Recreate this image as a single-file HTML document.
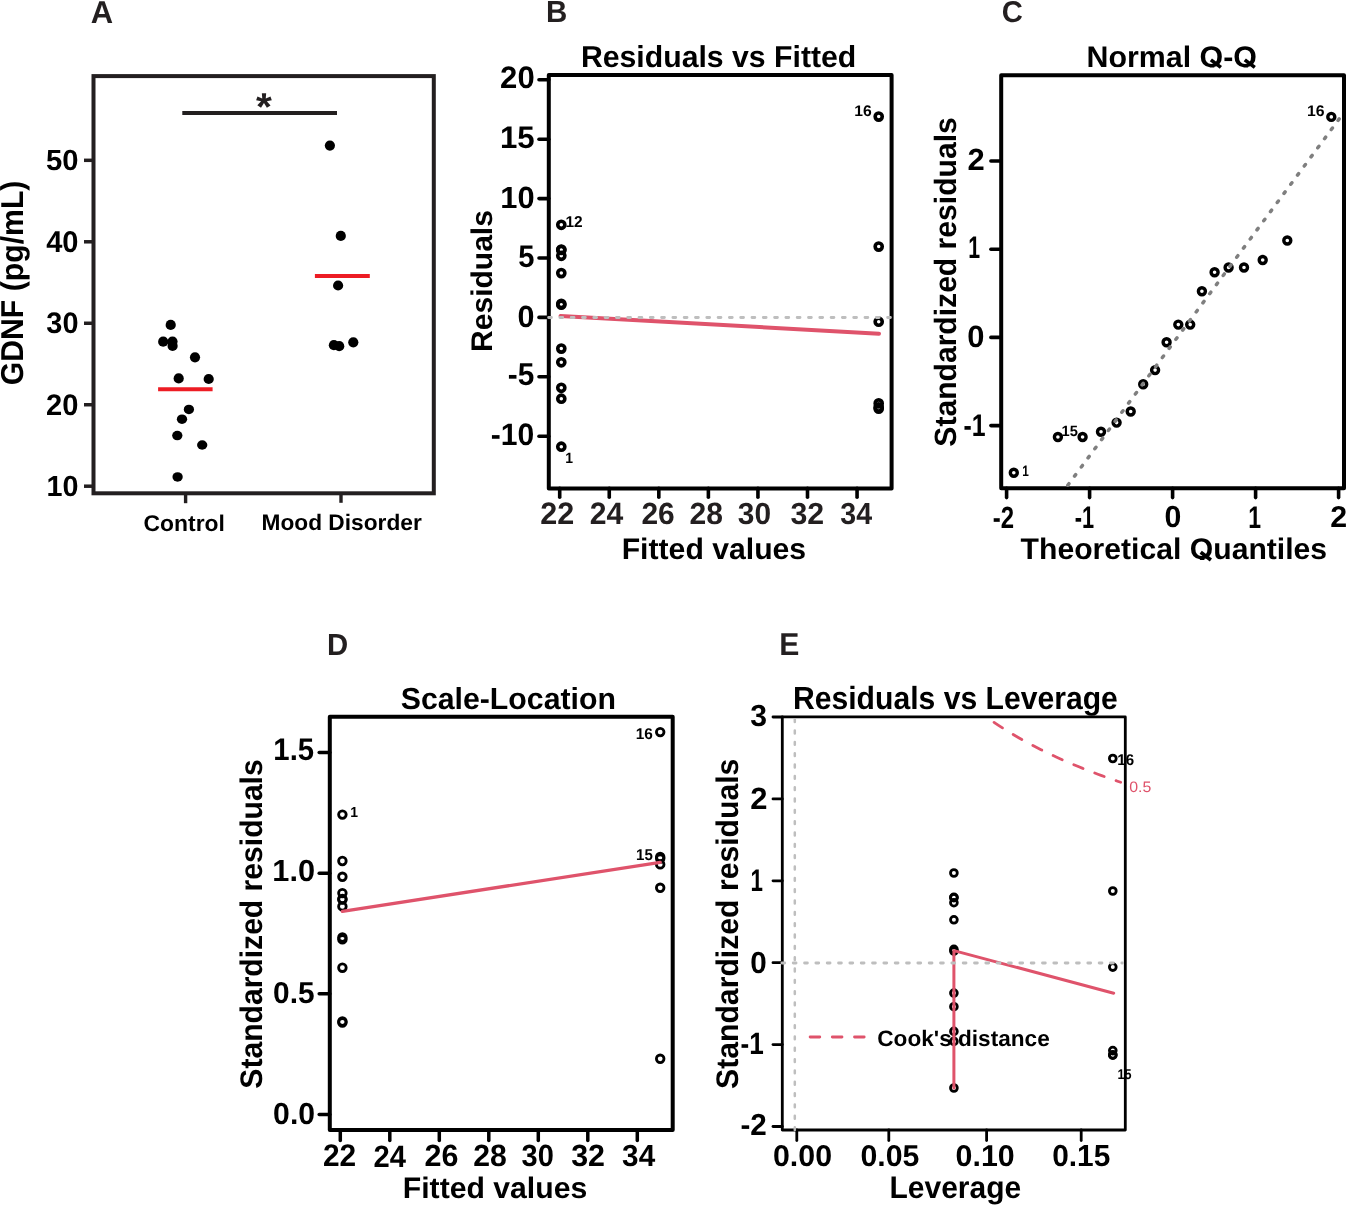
<!DOCTYPE html>
<html><head><meta charset="utf-8"><style>
html,body{margin:0;padding:0;background:#fff;}
svg{display:block;will-change:transform;}
text{font-family:"Liberation Sans",sans-serif;text-rendering:geometricPrecision;}
</style></head><body>
<svg width="1347" height="1205" viewBox="0 0 1347 1205">
<rect width="1347" height="1205" fill="#fff"/>
<text transform="translate(90.83,22.6) scale(0.9829,1)" font-size="31.54" font-weight="700" fill="#231f20">A</text>
<text transform="translate(545.93,22.1) scale(0.9624,1)" font-size="30.67" font-weight="700" fill="#231f20">B</text>
<text transform="translate(1001.8,22.01) scale(0.9756,1)" font-size="29.94" font-weight="700" fill="#231f20">C</text>
<text transform="translate(327.04,654.9) scale(0.9616,1)" font-size="30.52" font-weight="700" fill="#231f20">D</text>
<text transform="translate(779.28,655.4) scale(0.9550,1)" font-size="31.54" font-weight="700" fill="#231f20">E</text>
<rect x="93.5" y="76.1" width="340.3" height="417.2" fill="none" stroke="#231f20" stroke-width="4" stroke-linejoin="miter"/>
<line x1="84" y1="486.2" x2="93.5" y2="486.2" stroke="#231f20" stroke-width="3.5" stroke-linecap="butt"/>
<line x1="84" y1="404.73" x2="93.5" y2="404.73" stroke="#231f20" stroke-width="3.5" stroke-linecap="butt"/>
<line x1="84" y1="323.26" x2="93.5" y2="323.26" stroke="#231f20" stroke-width="3.5" stroke-linecap="butt"/>
<line x1="84" y1="241.79" x2="93.5" y2="241.79" stroke="#231f20" stroke-width="3.5" stroke-linecap="butt"/>
<line x1="84" y1="160.32" x2="93.5" y2="160.32" stroke="#231f20" stroke-width="3.5" stroke-linecap="butt"/>
<text transform="translate(46.1,169.82) scale(1.0041,1)" font-size="29.1" font-weight="700" fill="#000">50</text>
<text transform="translate(46.16,252.01) scale(0.9662,1)" font-size="30.08" font-weight="700" fill="#000">40</text>
<text transform="translate(46.34,333.37) scale(0.9765,1)" font-size="29.6" font-weight="700" fill="#000">30</text>
<text transform="translate(45.99,415.31) scale(0.9776,1)" font-size="29.8" font-weight="700" fill="#000">20</text>
<text transform="translate(46.39,496.32) scale(0.9885,1)" font-size="29.1" font-weight="700" fill="#000">10</text>
<text transform="translate(23.09,385.34) rotate(-90) scale(0.9555,1)" font-size="31.64" font-weight="700" fill="#000">GDNF (pg/mL)</text>
<line x1="185.6" y1="495" x2="185.6" y2="503.2" stroke="#231f20" stroke-width="3.4" stroke-linecap="butt"/>
<line x1="341" y1="495" x2="341" y2="502.8" stroke="#231f20" stroke-width="3.4" stroke-linecap="butt"/>
<text transform="translate(143.56,530.68) scale(1.0065,1)" font-size="22.74" font-weight="700" fill="#000">Control</text>
<text transform="translate(261.48,530.18) scale(1.0110,1)" font-size="22.47" font-weight="700" fill="#000">Mood Disorder</text>
<line x1="182.3" y1="113" x2="337" y2="113" stroke="#231f20" stroke-width="3.8" stroke-linecap="butt"/>
<text transform="translate(255.88,119.81) scale(1.0457,1)" font-size="38.97" font-weight="700" fill="#231f20">*</text>
<circle cx="170.7" cy="324.9" r="5.1" fill="#000"/>
<circle cx="163.2" cy="341.7" r="5.1" fill="#000"/>
<circle cx="172.5" cy="341.5" r="5.1" fill="#000"/>
<circle cx="172.6" cy="345.9" r="5.1" fill="#000"/>
<circle cx="195" cy="357.3" r="5.1" fill="#000"/>
<circle cx="178.7" cy="378.4" r="5.1" fill="#000"/>
<circle cx="208.7" cy="379" r="5.1" fill="#000"/>
<ellipse cx="188.9" cy="409.4" rx="5.15" ry="4.75" fill="#000"/>
<ellipse cx="182" cy="419.2" rx="5.15" ry="4.75" fill="#000"/>
<ellipse cx="177.3" cy="435.6" rx="5.15" ry="4.75" fill="#000"/>
<ellipse cx="202.2" cy="445" rx="5.15" ry="4.75" fill="#000"/>
<ellipse cx="177.6" cy="476.9" rx="5.15" ry="4.75" fill="#000"/>
<circle cx="329.9" cy="145.6" r="5.1" fill="#000"/>
<circle cx="340.8" cy="235.9" r="5.1" fill="#000"/>
<circle cx="338.1" cy="285.5" r="5.1" fill="#000"/>
<circle cx="333.9" cy="345.2" r="5.1" fill="#000"/>
<circle cx="339.2" cy="346.2" r="5.1" fill="#000"/>
<circle cx="353.3" cy="342.3" r="5.1" fill="#000"/>
<line x1="158.1" y1="389.2" x2="212.6" y2="389.2" stroke="#ED1C24" stroke-width="4" stroke-linecap="butt"/>
<line x1="314.9" y1="276.1" x2="369.8" y2="276.1" stroke="#ED1C24" stroke-width="4" stroke-linecap="butt"/>
<rect x="548.8" y="75" width="342.8" height="413.4" fill="none" stroke="#000" stroke-width="4" stroke-linejoin="round"/>
<line x1="539" y1="79.8" x2="548.8" y2="79.8" stroke="#000" stroke-width="3.6" stroke-linecap="round"/>
<line x1="539" y1="139.2" x2="548.8" y2="139.2" stroke="#000" stroke-width="3.6" stroke-linecap="round"/>
<line x1="539" y1="198.6" x2="548.8" y2="198.6" stroke="#000" stroke-width="3.6" stroke-linecap="round"/>
<line x1="539" y1="258" x2="548.8" y2="258" stroke="#000" stroke-width="3.6" stroke-linecap="round"/>
<line x1="539" y1="317.4" x2="548.8" y2="317.4" stroke="#000" stroke-width="3.6" stroke-linecap="round"/>
<line x1="539" y1="376.8" x2="548.8" y2="376.8" stroke="#000" stroke-width="3.6" stroke-linecap="round"/>
<line x1="539" y1="436.2" x2="548.8" y2="436.2" stroke="#000" stroke-width="3.6" stroke-linecap="round"/>
<line x1="559.7" y1="488.4" x2="559.7" y2="497.3" stroke="#000" stroke-width="3.6" stroke-linecap="round"/>
<line x1="609.26" y1="488.4" x2="609.26" y2="497.3" stroke="#000" stroke-width="3.6" stroke-linecap="round"/>
<line x1="658.82" y1="488.4" x2="658.82" y2="497.3" stroke="#000" stroke-width="3.6" stroke-linecap="round"/>
<line x1="708.38" y1="488.4" x2="708.38" y2="497.3" stroke="#000" stroke-width="3.6" stroke-linecap="round"/>
<line x1="757.94" y1="488.4" x2="757.94" y2="497.3" stroke="#000" stroke-width="3.6" stroke-linecap="round"/>
<line x1="807.5" y1="488.4" x2="807.5" y2="497.3" stroke="#000" stroke-width="3.6" stroke-linecap="round"/>
<line x1="857.06" y1="488.4" x2="857.06" y2="497.3" stroke="#000" stroke-width="3.6" stroke-linecap="round"/>
<text transform="translate(500.12,88.4)" font-size="31.07" font-weight="700" fill="#000">20</text>
<text transform="translate(499.93,148.3) scale(1.0042,1)" font-size="31.1" font-weight="700" fill="#000">15</text>
<text transform="translate(500.36,207.6) scale(1.0063,1)" font-size="30.65" font-weight="700" fill="#000">10</text>
<text transform="translate(518.3,267.2) scale(0.9371,1)" font-size="31.1" font-weight="700" fill="#000">5</text>
<text transform="translate(517.59,326.9) scale(0.9948,1)" font-size="30.65" font-weight="700" fill="#000">0</text>
<text transform="translate(507.84,385.39) scale(0.9450,1)" font-size="31.53" font-weight="700" fill="#000">-5</text>
<text transform="translate(490.82,445.1) scale(0.9688,1)" font-size="31.07" font-weight="700" fill="#000">-10</text>
<text transform="translate(540.14,524.1) scale(0.9831,1)" font-size="31.08" font-weight="700" fill="#231f20">22</text>
<text transform="translate(589.86,524.1) scale(0.9693,1)" font-size="31.08" font-weight="700" fill="#231f20">24</text>
<text transform="translate(641.46,523.8) scale(0.9774,1)" font-size="30.65" font-weight="700" fill="#231f20">26</text>
<text transform="translate(689.56,523.8) scale(0.9817,1)" font-size="30.65" font-weight="700" fill="#231f20">28</text>
<text transform="translate(737.81,523.76) scale(0.9762,1)" font-size="30.59" font-weight="700" fill="#231f20">30</text>
<text transform="translate(790.4,523.76) scale(0.9908,1)" font-size="30.59" font-weight="700" fill="#231f20">32</text>
<text transform="translate(840.24,523.76) scale(0.9350,1)" font-size="30.59" font-weight="700" fill="#231f20">34</text>
<text transform="translate(580.88,67.3)" font-size="30.23" font-weight="700" fill="#000">Residuals vs Fitted</text>
<text transform="translate(621.68,559.31) scale(1.0165,1)" font-size="29.69" font-weight="700" fill="#000">Fitted values</text>
<text transform="translate(492.21,351.91) rotate(-90) scale(1.0068,1)" font-size="29.82" font-weight="700" fill="#000">Residuals</text>
<circle cx="561.3" cy="224.8" r="3.55" fill="none" stroke="#000" stroke-width="3.6"/>
<circle cx="561.3" cy="249.6" r="3.55" fill="none" stroke="#000" stroke-width="3.6"/>
<circle cx="561.3" cy="250" r="3.55" fill="none" stroke="#000" stroke-width="3.6"/>
<circle cx="561.3" cy="255.8" r="3.55" fill="none" stroke="#000" stroke-width="3.6"/>
<circle cx="561.3" cy="273.1" r="3.55" fill="none" stroke="#000" stroke-width="3.6"/>
<circle cx="561.3" cy="303.9" r="3.55" fill="none" stroke="#000" stroke-width="3.6"/>
<circle cx="561.3" cy="304.7" r="3.55" fill="none" stroke="#000" stroke-width="3.6"/>
<circle cx="561.3" cy="348.6" r="3.55" fill="none" stroke="#000" stroke-width="3.6"/>
<circle cx="561.3" cy="362.3" r="3.55" fill="none" stroke="#000" stroke-width="3.6"/>
<circle cx="561.3" cy="387.8" r="3.55" fill="none" stroke="#000" stroke-width="3.6"/>
<circle cx="561.3" cy="398.7" r="3.55" fill="none" stroke="#000" stroke-width="3.6"/>
<circle cx="561.3" cy="446.7" r="3.55" fill="none" stroke="#000" stroke-width="3.6"/>
<circle cx="878.7" cy="116.6" r="3.55" fill="none" stroke="#000" stroke-width="3.6"/>
<circle cx="878.7" cy="246.6" r="3.55" fill="none" stroke="#000" stroke-width="3.6"/>
<circle cx="878.7" cy="321.7" r="3.55" fill="none" stroke="#000" stroke-width="3.6"/>
<circle cx="878.7" cy="403.4" r="3.55" fill="none" stroke="#000" stroke-width="3.6"/>
<circle cx="878.7" cy="407.4" r="3.55" fill="none" stroke="#000" stroke-width="3.6"/>
<circle cx="878.7" cy="408.6" r="3.55" fill="none" stroke="#000" stroke-width="3.6"/>
<line x1="560.5" y1="316" x2="879" y2="333.7" stroke="#DF536B" stroke-width="4" stroke-linecap="round"/>
<line x1="548.6" y1="317.5" x2="891.6" y2="317.5" stroke="#BEBEBE" stroke-width="2.83" stroke-linecap="round" stroke-dasharray="2.83 8.47"/>
<text transform="translate(854.31,115.55) scale(1.0193,1)" font-size="15.4" font-weight="700" fill="#000">16</text>
<text transform="translate(565.53,227.1) scale(0.9811,1)" font-size="15.75" font-weight="700" fill="#000">12</text>
<text transform="translate(565.22,463.2) scale(0.9422,1)" font-size="14.83" font-weight="700" fill="#000">1</text>
<rect x="1001.2" y="75.2" width="342.8" height="413.1" fill="none" stroke="#000" stroke-width="4" stroke-linejoin="round"/>
<line x1="990.9" y1="161" x2="1001.2" y2="161" stroke="#000" stroke-width="3.6" stroke-linecap="round"/>
<line x1="990.9" y1="249.2" x2="1001.2" y2="249.2" stroke="#000" stroke-width="3.6" stroke-linecap="round"/>
<line x1="990.9" y1="337.4" x2="1001.2" y2="337.4" stroke="#000" stroke-width="3.6" stroke-linecap="round"/>
<line x1="990.9" y1="425.6" x2="1001.2" y2="425.6" stroke="#000" stroke-width="3.6" stroke-linecap="round"/>
<line x1="1006.6" y1="488.3" x2="1006.6" y2="497.6" stroke="#000" stroke-width="3.6" stroke-linecap="round"/>
<line x1="1089.6" y1="488.3" x2="1089.6" y2="497.6" stroke="#000" stroke-width="3.6" stroke-linecap="round"/>
<line x1="1172.6" y1="488.3" x2="1172.6" y2="497.6" stroke="#000" stroke-width="3.6" stroke-linecap="round"/>
<line x1="1255.6" y1="488.3" x2="1255.6" y2="497.6" stroke="#000" stroke-width="3.6" stroke-linecap="round"/>
<line x1="1338.6" y1="488.3" x2="1338.6" y2="497.6" stroke="#000" stroke-width="3.6" stroke-linecap="round"/>
<text transform="translate(967.43,169.9) scale(1.0098,1)" font-size="30.65" font-weight="700" fill="#000">2</text>
<text transform="translate(968.16,258) scale(0.6840,1)" font-size="31.11" font-weight="700" fill="#000">1</text>
<text transform="translate(967.18,346.7) scale(1.0039,1)" font-size="30.79" font-weight="700" fill="#000">0</text>
<text transform="translate(963.53,435.6) scale(0.7939,1)" font-size="31.25" font-weight="700" fill="#000">-1</text>
<text transform="translate(992.76,527.6) scale(0.7778,1)" font-size="30.79" font-weight="700" fill="#000">-2</text>
<text transform="translate(1074.75,527.7) scale(0.6934,1)" font-size="31.4" font-weight="700" fill="#000">-1</text>
<text transform="translate(1164.6,527.4) scale(0.9925,1)" font-size="30.51" font-weight="700" fill="#000">0</text>
<text transform="translate(1248.25,527.7) scale(0.7324,1)" font-size="31.4" font-weight="700" fill="#000">1</text>
<text transform="translate(1330.25,527.4) scale(1.0035,1)" font-size="30.22" font-weight="700" fill="#000">2</text>
<clipPath id="cq1"><rect x="1080" y="38" width="190" height="29.6"/></clipPath><g clip-path="url(#cq1)">
<text transform="translate(1086.57,66.61) scale(1.0223,1)" font-size="29.69" font-weight="700" fill="#000">Normal Q-Q</text>
</g>
<line x1="1210.9" y1="59.9" x2="1220.9" y2="67.4" stroke="#000" stroke-width="3.6" stroke-linecap="butt"/>
<line x1="1244.8" y1="59.9" x2="1254.8" y2="67.4" stroke="#000" stroke-width="3.6" stroke-linecap="butt"/>
<clipPath id="cq2"><rect x="1010" y="530" width="330" height="30.0"/></clipPath><g clip-path="url(#cq2)">
<text transform="translate(1020.56,559.01) scale(1.0112,1)" font-size="29.82" font-weight="700" fill="#000">Theoretical Quantiles</text>
</g>
<line x1="1200.7" y1="552.3" x2="1210.9" y2="560" stroke="#000" stroke-width="3.6" stroke-linecap="butt"/>
<text transform="translate(956.3,446.67) rotate(-90) scale(0.9780,1)" font-size="30.77" font-weight="700" fill="#000">Standardized residuals</text>
<circle cx="1013.8" cy="472.8" r="3.5" fill="none" stroke="#000" stroke-width="3.4"/>
<circle cx="1057.9" cy="437" r="3.5" fill="none" stroke="#000" stroke-width="3.4"/>
<circle cx="1082.6" cy="437" r="3.5" fill="none" stroke="#000" stroke-width="3.4"/>
<circle cx="1101" cy="431.8" r="3.5" fill="none" stroke="#000" stroke-width="3.4"/>
<circle cx="1116.6" cy="422.6" r="3.5" fill="none" stroke="#000" stroke-width="3.4"/>
<circle cx="1130.7" cy="411.5" r="3.5" fill="none" stroke="#000" stroke-width="3.4"/>
<circle cx="1143.2" cy="384.3" r="3.5" fill="none" stroke="#000" stroke-width="3.4"/>
<circle cx="1155.1" cy="370.1" r="3.5" fill="none" stroke="#000" stroke-width="3.4"/>
<circle cx="1166.6" cy="342.2" r="3.5" fill="none" stroke="#000" stroke-width="3.4"/>
<circle cx="1178.3" cy="324.6" r="3.5" fill="none" stroke="#000" stroke-width="3.4"/>
<circle cx="1190.2" cy="324.6" r="3.5" fill="none" stroke="#000" stroke-width="3.4"/>
<circle cx="1201.9" cy="291.3" r="3.5" fill="none" stroke="#000" stroke-width="3.4"/>
<circle cx="1214.6" cy="272.3" r="3.5" fill="none" stroke="#000" stroke-width="3.4"/>
<circle cx="1228.6" cy="267.5" r="3.5" fill="none" stroke="#000" stroke-width="3.4"/>
<circle cx="1244" cy="267.5" r="3.5" fill="none" stroke="#000" stroke-width="3.4"/>
<circle cx="1262.7" cy="260" r="3.5" fill="none" stroke="#000" stroke-width="3.4"/>
<circle cx="1287.3" cy="240.5" r="3.5" fill="none" stroke="#000" stroke-width="3.4"/>
<circle cx="1331.3" cy="116.9" r="3.5" fill="none" stroke="#000" stroke-width="3.4"/>
<line x1="1066.5" y1="487" x2="1339.5" y2="118.5" stroke="#7F7F7F" stroke-width="3.5" stroke-linecap="round" stroke-dasharray="1.9 9.45" stroke-dashoffset="9.15"/>
<text transform="translate(1307.01,115.85) scale(1.0258,1)" font-size="15.4" font-weight="700" fill="#000">16</text>
<text transform="translate(1061.48,435.95) scale(0.9852,1)" font-size="14.9" font-weight="700" fill="#000">15</text>
<text transform="translate(1022.36,476.1) scale(0.7819,1)" font-size="15.12" font-weight="700" fill="#000">1</text>
<rect x="329.8" y="716.8" width="342.9" height="413.2" fill="none" stroke="#000" stroke-width="4" stroke-linejoin="round"/>
<line x1="319.2" y1="1114.5" x2="329.8" y2="1114.5" stroke="#000" stroke-width="3.5" stroke-linecap="round"/>
<line x1="319.2" y1="993.85" x2="329.8" y2="993.85" stroke="#000" stroke-width="3.5" stroke-linecap="round"/>
<line x1="319.2" y1="873.2" x2="329.8" y2="873.2" stroke="#000" stroke-width="3.5" stroke-linecap="round"/>
<line x1="319.2" y1="752.55" x2="329.8" y2="752.55" stroke="#000" stroke-width="3.5" stroke-linecap="round"/>
<line x1="340.3" y1="1130" x2="340.3" y2="1140.5" stroke="#000" stroke-width="3.5" stroke-linecap="round"/>
<line x1="389.8" y1="1130" x2="389.8" y2="1140.5" stroke="#000" stroke-width="3.5" stroke-linecap="round"/>
<line x1="439.3" y1="1130" x2="439.3" y2="1140.5" stroke="#000" stroke-width="3.5" stroke-linecap="round"/>
<line x1="488.8" y1="1130" x2="488.8" y2="1140.5" stroke="#000" stroke-width="3.5" stroke-linecap="round"/>
<line x1="538.3" y1="1130" x2="538.3" y2="1140.5" stroke="#000" stroke-width="3.5" stroke-linecap="round"/>
<line x1="587.8" y1="1130" x2="587.8" y2="1140.5" stroke="#000" stroke-width="3.5" stroke-linecap="round"/>
<line x1="637.3" y1="1130" x2="637.3" y2="1140.5" stroke="#000" stroke-width="3.5" stroke-linecap="round"/>
<text transform="translate(273.35,760.19) scale(0.9385,1)" font-size="31.24" font-weight="700" fill="#000">1.5</text>
<text transform="translate(272.37,881.1) scale(1.0067,1)" font-size="30.51" font-weight="700" fill="#000">1.0</text>
<text transform="translate(273.12,1003.2) scale(0.9880,1)" font-size="30.23" font-weight="700" fill="#000">0.5</text>
<text transform="translate(273.11,1124.3) scale(0.9887,1)" font-size="30.51" font-weight="700" fill="#000">0.0</text>
<text transform="translate(322.96,1166.4) scale(0.9569,1)" font-size="31.22" font-weight="700" fill="#000">22</text>
<text transform="translate(373.49,1167.3) scale(0.9436,1)" font-size="30.93" font-weight="700" fill="#000">24</text>
<text transform="translate(424.54,1166.1) scale(0.9916,1)" font-size="30.79" font-weight="700" fill="#000">26</text>
<text transform="translate(473.15,1166.2) scale(0.9803,1)" font-size="30.79" font-weight="700" fill="#000">28</text>
<text transform="translate(521.53,1166.15) scale(0.9437,1)" font-size="30.73" font-weight="700" fill="#000">30</text>
<text transform="translate(571.2,1166.15) scale(0.9894,1)" font-size="30.73" font-weight="700" fill="#000">32</text>
<text transform="translate(622.12,1165.76) scale(0.9757,1)" font-size="30.45" font-weight="700" fill="#000">34</text>
<text transform="translate(400.73,708.9) scale(0.9966,1)" font-size="30.37" font-weight="700" fill="#000">Scale-Location</text>
<text transform="translate(402.78,1198.41) scale(1.0165,1)" font-size="29.69" font-weight="700" fill="#000">Fitted values</text>
<text transform="translate(262.3,1088.67) rotate(-90) scale(0.9652,1)" font-size="31.18" font-weight="700" fill="#000">Standardized residuals</text>
<circle cx="342.4" cy="814.6" r="3.8" fill="none" stroke="#000" stroke-width="2.8"/>
<circle cx="342.4" cy="861" r="3.8" fill="none" stroke="#000" stroke-width="2.8"/>
<circle cx="342.4" cy="876.8" r="3.8" fill="none" stroke="#000" stroke-width="2.8"/>
<circle cx="342.4" cy="893.1" r="3.8" fill="none" stroke="#000" stroke-width="2.8"/>
<circle cx="342.4" cy="899" r="3.8" fill="none" stroke="#000" stroke-width="2.8"/>
<circle cx="342.4" cy="899.6" r="3.8" fill="none" stroke="#000" stroke-width="2.8"/>
<circle cx="342.4" cy="906.4" r="3.8" fill="none" stroke="#000" stroke-width="2.8"/>
<circle cx="342.4" cy="937.5" r="3.8" fill="none" stroke="#000" stroke-width="2.8"/>
<circle cx="342.4" cy="939.4" r="3.8" fill="none" stroke="#000" stroke-width="2.8"/>
<circle cx="342.4" cy="967.7" r="3.8" fill="none" stroke="#000" stroke-width="2.8"/>
<circle cx="342.4" cy="1021.5" r="3.8" fill="none" stroke="#000" stroke-width="2.8"/>
<circle cx="342.4" cy="1022.5" r="3.8" fill="none" stroke="#000" stroke-width="2.8"/>
<circle cx="660.2" cy="732.1" r="3.8" fill="none" stroke="#000" stroke-width="2.8"/>
<circle cx="660.2" cy="857" r="3.8" fill="none" stroke="#000" stroke-width="2.8"/>
<circle cx="660.2" cy="858.6" r="3.8" fill="none" stroke="#000" stroke-width="2.8"/>
<circle cx="660.2" cy="864.4" r="3.8" fill="none" stroke="#000" stroke-width="2.8"/>
<circle cx="660.2" cy="887.8" r="3.8" fill="none" stroke="#000" stroke-width="2.8"/>
<circle cx="660.2" cy="1058.8" r="3.8" fill="none" stroke="#000" stroke-width="2.8"/>
<line x1="342.4" y1="911.4" x2="660.2" y2="862.4" stroke="#DF536B" stroke-width="3.4" stroke-linecap="round"/>
<text transform="translate(350.22,817.4) scale(0.9610,1)" font-size="14.54" font-weight="700" fill="#000">1</text>
<text transform="translate(635.73,738.65) scale(0.9910,1)" font-size="15.54" font-weight="700" fill="#000">16</text>
<text transform="translate(636.05,860.05) scale(0.9563,1)" font-size="15.76" font-weight="700" fill="#000">15</text>
<line x1="773" y1="717" x2="782.3" y2="717" stroke="#000" stroke-width="2.8" stroke-linecap="round"/>
<line x1="773" y1="798.9" x2="782.3" y2="798.9" stroke="#000" stroke-width="2.8" stroke-linecap="round"/>
<line x1="773" y1="880.8" x2="782.3" y2="880.8" stroke="#000" stroke-width="2.8" stroke-linecap="round"/>
<line x1="773" y1="962.7" x2="782.3" y2="962.7" stroke="#000" stroke-width="2.8" stroke-linecap="round"/>
<line x1="773" y1="1044.6" x2="782.3" y2="1044.6" stroke="#000" stroke-width="2.8" stroke-linecap="round"/>
<line x1="773" y1="1126.5" x2="782.3" y2="1126.5" stroke="#000" stroke-width="2.8" stroke-linecap="round"/>
<line x1="796.8" y1="1130" x2="796.8" y2="1140.6" stroke="#000" stroke-width="2.8" stroke-linecap="round"/>
<line x1="888.8" y1="1130" x2="888.8" y2="1140.6" stroke="#000" stroke-width="2.8" stroke-linecap="round"/>
<line x1="986.6" y1="1130" x2="986.6" y2="1140.6" stroke="#000" stroke-width="2.8" stroke-linecap="round"/>
<line x1="1081.2" y1="1130" x2="1081.2" y2="1140.6" stroke="#000" stroke-width="2.8" stroke-linecap="round"/>
<text transform="translate(750.21,725.76) scale(0.9912,1)" font-size="30.45" font-weight="700" fill="#000">3</text>
<text transform="translate(750.23,809) scale(1.0051,1)" font-size="30.79" font-weight="700" fill="#000">2</text>
<text transform="translate(750.59,891.1) scale(0.7152,1)" font-size="31.25" font-weight="700" fill="#000">1</text>
<text transform="translate(750.33,972.6) scale(0.9718,1)" font-size="30.51" font-weight="700" fill="#000">0</text>
<text transform="translate(740.58,1054.1) scale(0.8485,1)" font-size="30.81" font-weight="700" fill="#000">-1</text>
<text transform="translate(740.44,1135.4) scale(0.9758,1)" font-size="30.36" font-weight="700" fill="#000">-2</text>
<text transform="translate(773,1165.81) scale(1.0084,1)" font-size="30.08" font-weight="700" fill="#000">0.00</text>
<text transform="translate(860.4,1165.81) scale(1.0066,1)" font-size="30.08" font-weight="700" fill="#000">0.05</text>
<text transform="translate(955.6,1165.81) scale(1.0084,1)" font-size="30.08" font-weight="700" fill="#000">0.10</text>
<text transform="translate(1052.22,1166) scale(0.9832,1)" font-size="30.37" font-weight="700" fill="#000">0.15</text>
<text transform="translate(792.98,709) scale(0.9423,1)" font-size="31.98" font-weight="700" fill="#000">Residuals vs Leverage</text>
<text transform="translate(889.49,1197.8) scale(0.9645,1)" font-size="31.1" font-weight="700" fill="#000">Leverage</text>
<text transform="translate(737.6,1088.97) rotate(-90) scale(0.9681,1)" font-size="31.18" font-weight="700" fill="#000">Standardized residuals</text>
<circle cx="953.9" cy="873" r="3.4" fill="none" stroke="#000" stroke-width="2.8"/>
<circle cx="953.9" cy="897.7" r="3.4" fill="none" stroke="#000" stroke-width="2.8"/>
<circle cx="953.9" cy="902.7" r="3.4" fill="none" stroke="#000" stroke-width="2.8"/>
<circle cx="953.9" cy="897.3" r="3.4" fill="none" stroke="#000" stroke-width="2.8"/>
<circle cx="953.9" cy="919.8" r="3.4" fill="none" stroke="#000" stroke-width="2.8"/>
<circle cx="953.9" cy="949.4" r="3.4" fill="none" stroke="#000" stroke-width="2.8"/>
<circle cx="953.9" cy="951.1" r="3.4" fill="none" stroke="#000" stroke-width="2.8"/>
<circle cx="953.9" cy="993.1" r="3.4" fill="none" stroke="#000" stroke-width="2.8"/>
<circle cx="953.9" cy="1006.7" r="3.4" fill="none" stroke="#000" stroke-width="2.8"/>
<circle cx="953.9" cy="1031.4" r="3.4" fill="none" stroke="#000" stroke-width="2.8"/>
<circle cx="953.9" cy="1041.4" r="3.4" fill="none" stroke="#000" stroke-width="2.8"/>
<circle cx="953.9" cy="1088" r="3.4" fill="none" stroke="#000" stroke-width="2.8"/>
<circle cx="1112.8" cy="758.5" r="3.4" fill="none" stroke="#000" stroke-width="2.8"/>
<circle cx="1112.8" cy="891" r="3.4" fill="none" stroke="#000" stroke-width="2.8"/>
<circle cx="1112.8" cy="967.1" r="3.4" fill="none" stroke="#000" stroke-width="2.8"/>
<circle cx="1112.8" cy="1050.6" r="3.4" fill="none" stroke="#000" stroke-width="2.8"/>
<circle cx="1112.8" cy="1054.8" r="3.4" fill="none" stroke="#000" stroke-width="2.8"/>
<circle cx="1112.8" cy="1055.2" r="3.4" fill="none" stroke="#000" stroke-width="2.8"/>
<polyline points="953.9,1088 953.9,950.6 1113.7,993.2" fill="none" stroke="#DF536B" stroke-width="3" stroke-linecap="round" stroke-linejoin="round"/>
<text transform="translate(1117.25,764.75) scale(0.9720,1)" font-size="15.54" font-weight="700" fill="#000">16</text>
<text transform="translate(1117.5,1078.96) scale(0.8992,1)" font-size="14.05" font-weight="700" fill="#000">15</text>
<rect x="782.3" y="716.9" width="343" height="413.1" fill="none" stroke="#000" stroke-width="2.8" stroke-linejoin="round"/>
<polyline points="987.92,718.09 991.71,720.75 995.5,723.33 999.29,725.85 1003.08,728.3 1006.88,730.69 1010.67,733.01 1014.46,735.28 1018.25,737.49 1022.04,739.64 1025.84,741.75 1029.63,743.81 1033.42,745.81 1037.21,747.78 1041,749.7 1044.8,751.57 1048.59,753.41 1052.38,755.21 1056.17,756.97 1059.96,758.69 1063.76,760.38 1067.55,762.04 1071.34,763.66 1075.13,765.25 1078.92,766.82 1082.72,768.35 1086.51,769.85 1090.3,771.33 1094.09,772.78 1097.88,774.2 1101.68,775.6 1105.47,776.97 1109.26,778.33 1113.05,779.65 1116.84,780.96 1120.64,782.24" fill="none" stroke="#DF536B" stroke-width="2.8" stroke-linecap="round" stroke-linejoin="round" stroke-dasharray="10 12.6" stroke-dashoffset="15.1"/>
<line x1="781.9" y1="963" x2="1122.4" y2="963" stroke="#BEBEBE" stroke-width="2.83" stroke-linecap="round" stroke-dasharray="2.83 8.5"/>
<line x1="794.8" y1="1130" x2="794.8" y2="716.9" stroke="#BEBEBE" stroke-width="2.5" stroke-linecap="round" stroke-dasharray="2.83 8.5"/>
<line x1="810.1" y1="1037" x2="864.2" y2="1037" stroke="#DF536B" stroke-width="2.8" stroke-linecap="round" stroke-dasharray="9.7 12.5"/>
<text transform="translate(877.27,1046.28) scale(1.0125,1)" font-size="22.33" font-weight="700" fill="#000">Cook&#39;s distance</text>
<text transform="translate(1129.28,791.85) scale(1.0514,1)" font-size="15.11" font-weight="400" fill="#DF536B">0.5</text>
</svg>
</body></html>
